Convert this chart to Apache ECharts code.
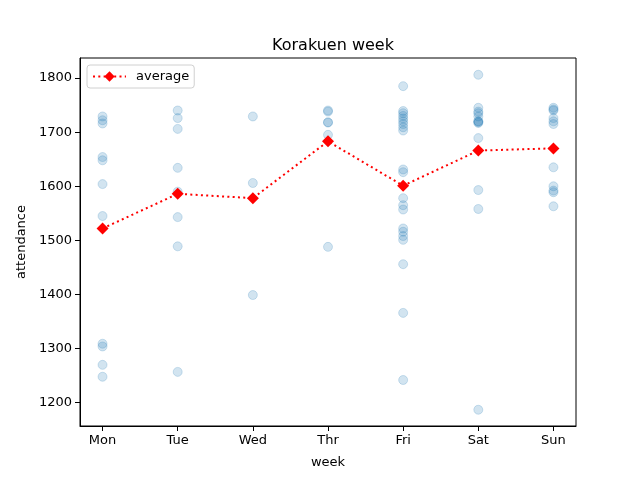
<!DOCTYPE html>
<html>
<head>
<meta charset="utf-8">
<script src="https://cdn.jsdelivr.net/npm/echarts@6/dist/echarts.min.js"></script>
<style>html,body{margin:0;padding:0;background:#fff}#c{width:640px;height:480px}</style>
</head>
<body>
<div id="c"></div>
<script>
const days = ['Mon', 'Tue', 'Wed', 'Thr', 'Fri', 'Sat', 'Sun'];
const mon = [1729, 1722, 1716, 1654, 1648, 1604, 1545, 1309, 1304, 1270, 1248];
const tue = [1740, 1726, 1706, 1634, 1590, 1543, 1489, 1257];
const wed = [1729, 1606, 1399];
const thr = [1740, 1738, 1718, 1718, 1695, 1488];
const fri = [1785, 1739, 1735, 1730, 1725, 1720, 1715, 1709, 1703, 1631, 1626, 1578, 1565, 1557, 1522, 1516, 1508, 1501, 1456, 1366, 1242];
const sat = [1806, 1745, 1738, 1735, 1729, 1720, 1720, 1718, 1717, 1689, 1593, 1558, 1187];
const sun = [1745, 1742, 1740, 1726, 1720, 1715, 1635, 1600, 1592, 1589, 1563];
const average = [1522, 1586, 1578, 1683, 1601, 1666, 1670];
const yTicks = [1200, 1300, 1400, 1500, 1600, 1700, 1800];

const perDay = [mon, tue, wed, thr, fri, sat, sun];
const scatterData = [];
perDay.forEach((vals, i) => vals.forEach(v => scatterData.push([i, v])));
const avgData = average.map((v, i) => [i, v]);
const dayIdx = days.map((d, i) => i);

const font = 'DejaVu Sans';
const chart = echarts.init(document.getElementById('c'), null, {renderer: 'canvas'});
chart.setOption({
  animation: false,
  backgroundColor: '#fff',
  textStyle: {fontFamily: font},
  title: {
    text: 'Korakuen week',
    left: 328, top: 33, textAlign: 'center',
    textStyle: {fontFamily: font, fontSize: 16, fontWeight: 'normal', color: '#000'}
  },
  legend: {
    left: 87, top: 65,
    padding: [5, 5, 5, 5],
    itemGap: 0,
    itemWidth: 33, itemHeight: 13,
    borderColor: '#d0d0d0', borderWidth: 1, borderRadius: 3,
    backgroundColor: 'rgba(255,255,255,0.8)',
    textStyle: {fontFamily: font, fontSize: 13, color: '#000', padding: [0, 0, 0, 5]},
    data: ['average']
  },
  grid: {
    left: 80, right: 64, top: 58, bottom: 54,
    show: true, borderColor: '#000', borderWidth: 1, backgroundColor: 'transparent'
  },
  xAxis: {
    type: 'value', min: -0.3, max: 6.3,
    name: 'week', nameLocation: 'middle', nameGap: 30,
    nameTextStyle: {fontFamily: font, fontSize: 13, color: '#000'},
    axisLine: {show: true, onZero: false, lineStyle: {color: '#000', width: 1}},
    axisTick: {show: true, length: 5, customValues: dayIdx, lineStyle: {color: '#000'}},
    axisLabel: {customValues: dayIdx, formatter: v => days[Math.round(v)], fontFamily: font, fontSize: 13, color: '#000', margin: 8},
    splitLine: {show: false}
  },
  yAxis: {
    type: 'value', min: 1157, max: 1837,
    name: 'attendance', nameLocation: 'middle', nameGap: 48,
    nameTextStyle: {fontFamily: font, fontSize: 13, color: '#000'},
    axisLine: {show: true, onZero: false, lineStyle: {color: '#000', width: 1}},
    axisTick: {show: true, length: 5, customValues: yTicks, lineStyle: {color: '#000'}},
    axisLabel: {customValues: yTicks, formatter: v => String(v), fontFamily: font, fontSize: 13, color: '#000', margin: 8},
    splitLine: {show: false}
  },
  series: [
    {
      type: 'scatter', name: 'points',
      data: scatterData, symbol: 'circle', symbolSize: 9,
      itemStyle: {color: 'rgba(31,119,180,0.2)', borderColor: 'rgba(31,119,180,0.2)', borderWidth: 1, opacity: 1},
      z: 2
    },
    {
      type: 'line', name: 'average',
      data: avgData, symbol: 'diamond', symbolSize: 12,
      itemStyle: {color: '#ff0000'},
      lineStyle: {color: '#ff0000', width: 2, type: [2, 3.3]},
      z: 3
    }
  ]
});
</script>
</body>
</html>
